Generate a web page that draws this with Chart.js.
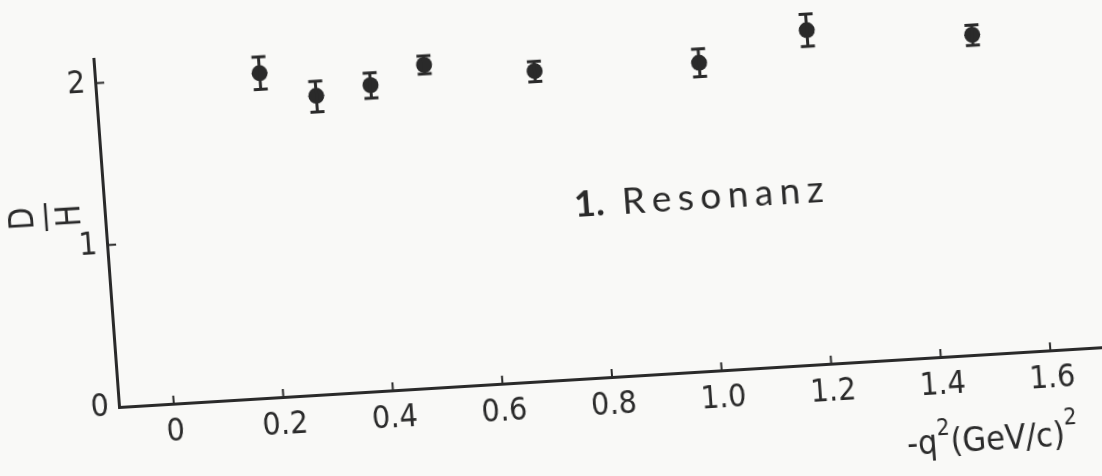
<!DOCTYPE html>
<html>
<head>
<meta charset="utf-8">
<script src="https://cdn.jsdelivr.net/npm/chart.js@4.4.1/dist/chart.umd.min.js"></script>
<style>
  html, body { margin: 0; padding: 0; background: #f9f9f7; overflow: hidden; width: 1102px; height: 476px; }
  /* the scanned figure is slightly tilted, so the whole plot is turned a little */
  #wrap { position: absolute; left: -1px; top: 18px; width: 1128px; height: 518px;
          transform-origin: 120px 389px; transform: matrix(0.99816, -0.0607, 0.0732, 0.99731, 0, 0); }
</style>
</head>
<body>
<div id="wrap"><canvas id="chart" width="1128" height="518"></canvas></div>
<script>
// D/H ratio vs -q^2, 1. Resonanz
const Q2 = [0.2, 0.3, 0.4, 0.5, 0.7, 1.0, 1.2, 1.5];
const RATIO = [2.00, 1.84, 1.885, 1.99, 1.91, 1.90, 2.06, 1.97];
const ERR_UP = [0.10, 0.09, 0.075, 0.055, 0.06, 0.085, 0.10, 0.06];
const ERR_DOWN = [0.10, 0.10, 0.08, 0.055, 0.065, 0.085, 0.10, 0.065];

const X_TICKS = [0, 0.2, 0.4, 0.6, 0.8, 1.0, 1.2, 1.4, 1.6];
const X_LABELS = ["0", "0.2", "0.4", "0.6", "0.8", "1.0", "1.2", "1.4", "1.6"];
const Y_TICKS = [0, 1, 2];
const Y_LABELS = ["0", "1", "2"];

const INK = "#2a2a2a";
const NARROW = "'DejaVu Sans Condensed', 'Liberation Sans Narrow', sans-serif";

// error bars, inward tick marks, the D/H label, the note and the x title
const decor = {
  id: "decor",
  afterDatasetsDraw(chart) {
    const { ctx, chartArea: a, scales: { x, y } } = chart;
    ctx.save();
    ctx.strokeStyle = INK;
    ctx.fillStyle = INK;

    ctx.lineWidth = 3;
    Q2.forEach((q, i) => {
      const px = x.getPixelForValue(q);
      const top = y.getPixelForValue(RATIO[i] + ERR_UP[i]);
      const bot = y.getPixelForValue(RATIO[i] - ERR_DOWN[i]);
      ctx.beginPath();
      ctx.moveTo(px, top); ctx.lineTo(px, bot);
      ctx.moveTo(px - 7, top); ctx.lineTo(px + 7, top);
      ctx.moveTo(px - 7, bot); ctx.lineTo(px + 7, bot);
      ctx.stroke();
    });

    ctx.lineWidth = 2;
    X_TICKS.forEach((v) => {
      const px = x.getPixelForValue(v);
      ctx.beginPath(); ctx.moveTo(px, a.bottom); ctx.lineTo(px, a.bottom - 8); ctx.stroke();
    });
    Y_TICKS.slice(1).forEach((v) => {
      const py = y.getPixelForValue(v);
      ctx.beginPath(); ctx.moveTo(a.left, py); ctx.lineTo(a.left + 9, py); ctx.stroke();
    });

    // D over H, turned on its side
    ctx.save();
    ctx.translate(a.left - 58, a.bottom - 194);
    ctx.rotate(-Math.PI / 2);
    ctx.font = "33px " + NARROW;
    ctx.textAlign = "center";
    ctx.textBaseline = "middle";
    ctx.fillText("D", 0, -23);
    ctx.fillText("H", 0, 24);
    ctx.lineWidth = 2.5;
    ctx.beginPath(); ctx.moveTo(-14, -1); ctx.lineTo(14, -1); ctx.stroke();
    ctx.restore();

    // "1. Resonanz"
    ctx.textAlign = "left";
    ctx.textBaseline = "alphabetic";
    let tx = x.getPixelForValue(0.754);
    const ty = y.getPixelForValue(1.0);
    ctx.font = "bold 37px Lato";
    ctx.fillText("1.", tx, ty);
    tx += 48;
    ctx.font = "37px Lato";
    for (const ch of "Resonanz") {
      ctx.fillText(ch, tx, ty);
      tx += ctx.measureText(ch).width + 6.5;
    }

    // -q²(GeV/c)²
    let qx = x.getPixelForValue(1.327);
    const qy = a.bottom + 96;
    const big = "34px " + NARROW, small = "23px " + NARROW;
    const parts = [["-q", big, 0], ["2", small, -18], ["(GeV/c)", big, 0], ["2", small, -21]];
    for (const [t, f, dy] of parts) {
      ctx.font = f;
      ctx.fillText(t, qx, qy + dy);
      qx += ctx.measureText(t).width;
    }
    ctx.restore();
  }
};

new Chart(document.getElementById("chart"), {
  type: "scatter",
  data: {
    datasets: [{
      data: Q2.map((q, i) => ({ x: q, y: RATIO[i] })),
      pointRadius: 8,
      pointBackgroundColor: INK,
      pointBorderWidth: 0,
      clip: false,
    }],
  },
  options: {
    responsive: false,
    animation: false,
    devicePixelRatio: 1,
    layout: { padding: { top: 40, right: 20, left: 60, bottom: 60 } },
    plugins: { legend: { display: false }, tooltip: { enabled: false } },
    scales: {
      x: {
        type: "linear",
        min: -0.1,
        max: 1.7,
        afterBuildTicks: (s) => { s.ticks = X_TICKS.map((v) => ({ value: v })); },
        afterFit: (s) => { s.height = 69; },
        grid: { drawOnChartArea: false, drawTicks: false },
        border: { display: true, color: INK, width: 3 },
        ticks: {
          autoSkip: false, maxRotation: 0, padding: 9, color: INK,
          font: { family: NARROW, size: 32 },
          callback: (v) => X_LABELS[X_TICKS.indexOf(v)],
        },
      },
      y: {
        type: "linear",
        min: 0,
        max: 2.15,
        afterBuildTicks: (s) => { s.ticks = Y_TICKS.map((v) => ({ value: v })); },
        afterFit: (s) => { s.width = 60; },
        grid: { drawOnChartArea: false, drawTicks: false },
        border: { display: true, color: INK, width: 3 },
        ticks: {
          padding: 10, color: INK,
          font: { family: NARROW, size: 32 },
          callback: (v) => Y_LABELS[Y_TICKS.indexOf(v)],
        },
      },
    },
  },
  plugins: [decor],
});
</script>
</body>
</html>
